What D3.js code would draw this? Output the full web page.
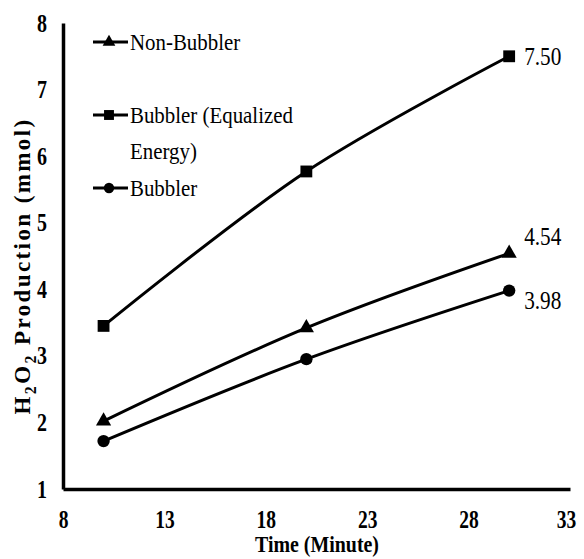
<!DOCTYPE html>
<html lang="en">
<head>
    <meta charset="UTF-8">
    <title>H2O2 Production vs Time</title>
    <script src="https://d3js.org/d3.v7.min.js"></script>
    <style>
        body { margin: 0; background: #fff; }
        svg text { font-family: "Liberation Serif", "Times New Roman", serif; fill: #000; }
        .tick text { font-weight: bold; font-size: 25px; }
    </style>
</head>
<body>
<div id="chart"></div>
<script>
    // Data
    const times = [10, 20, 30];
    const nonBubbler = [2.02, 3.42, 4.54];
    const bubblerEq = [3.45, 5.77, 7.50];
    const bubbler = [1.72, 2.95, 3.98];
    const endLabels = ["4.54", "7.50", "3.98"];
    const xTicks = [8, 13, 18, 23, 28, 33];
    const yTicks = [1, 2, 3, 4, 5, 6, 7, 8];

    const series = [
        {name: "Non-Bubbler", values: nonBubbler, symbol: d3.symbolTriangle, label: endLabels[0], dy: -17},
        {name: "Bubbler (Equalized|Energy)", values: bubblerEq, symbol: d3.symbolSquare, label: endLabels[1], dy: 0},
        {name: "Bubbler", values: bubbler, symbol: d3.symbolCircle, label: endLabels[2], dy: 10}
    ];

    const width = 584, height = 559;

    const svg = d3.select("#chart").append("svg")
        .attr("width", width)
        .attr("height", height);

    const x = d3.scaleLinear().domain([8, 33]).range([63, 570]);
    const y = d3.scaleLinear().domain([1, 8]).range([489, 23]);

    // squeeze text horizontally, the reference font is narrow
    function condense(sel, k) {
        sel.each(function() {
            const w = this.getComputedTextLength();
            d3.select(this).attr("textLength", w * k).attr("lengthAdjust", "spacingAndGlyphs");
        });
    }

    // axes
    const xAxis = svg.append("g")
        .attr("transform", `translate(0,${y(1)})`)
        .call(d3.axisBottom(x).tickValues(xTicks).tickSize(0).tickPadding(21));
    xAxis.select(".domain").attr("stroke-width", 3.5);
    condense(xAxis.selectAll(".tick text"), 0.78);
    // keep the last label inside the page
    xAxis.selectAll(".tick text").filter(d => d === 33).attr("dx", -4);

    const yAxis = svg.append("g")
        .attr("transform", `translate(${x(8)},0)`)
        .call(d3.axisLeft(y).tickValues(yTicks).tickFormat(d3.format("d")).tickSize(0).tickPadding(16));
    yAxis.select(".domain").attr("stroke-width", 3.5);
    condense(yAxis.selectAll(".tick text"), 0.8);

    // axis titles
    svg.append("text")
        .attr("x", 317)
        .attr("y", 552)
        .attr("text-anchor", "middle")
        .style("font-weight", "bold")
        .style("font-size", "24px")
        .attr("textLength", 124)
        .attr("lengthAdjust", "spacingAndGlyphs")
        .text("Time (Minute)");

    const yTitle = svg.append("text")
        .attr("transform", "translate(30,266) rotate(-90)")
        .attr("text-anchor", "middle")
        .style("font-weight", "bold")
        .style("font-size", "23px")
        .style("letter-spacing", "2.4px");
    yTitle.append("tspan").text("H");
    yTitle.append("tspan").attr("dy", 6).style("font-size", "16px").text("2");
    yTitle.append("tspan").attr("dy", -6).text("O");
    yTitle.append("tspan").attr("dy", 6).style("font-size", "16px").text("2");
    yTitle.append("tspan").attr("dy", -6).text(" Production (mmol)");

    // lines
    const line = d3.line()
        .x((d, i) => x(times[i]))
        .y(d => y(d))
        .curve(d3.curveCatmullRom.alpha(0.5));

    const symbolSize = s => s === d3.symbolTriangle ? 100 : (s === d3.symbolSquare ? 140 : 120);

    series.forEach(s => {
        svg.append("path")
            .datum(s.values)
            .attr("fill", "none")
            .attr("stroke", "#000")
            .attr("stroke-width", 3)
            .attr("d", line);

        svg.selectAll(null)
            .data(s.values)
            .enter()
            .append("path")
            .attr("transform", (d, i) => `translate(${x(times[i])},${y(d)})`)
            .attr("d", d3.symbol().type(s.symbol).size(symbolSize(s.symbol)))
            .attr("fill", "#000");

        const last = s.values[s.values.length - 1];
        const lab = svg.append("text")
            .attr("x", x(times[times.length - 1]) + 15)
            .attr("y", y(last) + s.dy)
            .attr("dy", "0.35em")
            .style("font-size", "25px")
            .text(s.label);
        condense(lab, 0.85);
    });

    // legend
    const legendY = [42, 115, 188];
    const legend = svg.selectAll(".legend-item")
        .data(series)
        .enter()
        .append("g")
        .attr("class", "legend-item")
        .attr("transform", (d, i) => `translate(93,${legendY[i]})`);

    legend.append("line")
        .attr("x1", 0).attr("x2", 35)
        .attr("stroke", "#000")
        .attr("stroke-width", 3);

    legend.append("path")
        .attr("transform", "translate(16,0)")
        .attr("d", d => d3.symbol().type(d.symbol).size(symbolSize(d.symbol) * 0.7)())
        .attr("fill", "#000");

    legend.each(function(d) {
        const parts = d.name.split("|");
        const t = d3.select(this).append("text")
            .style("font-size", "24px");
        parts.forEach((p, i) => {
            const ts = t.append("tspan")
                .attr("x", 37)
                .attr("dy", i === 0 ? "0.35em" : "1.5em")
                .text(p);
            condense(ts, 0.87);
        });
    });
</script>
</body>
</html>
